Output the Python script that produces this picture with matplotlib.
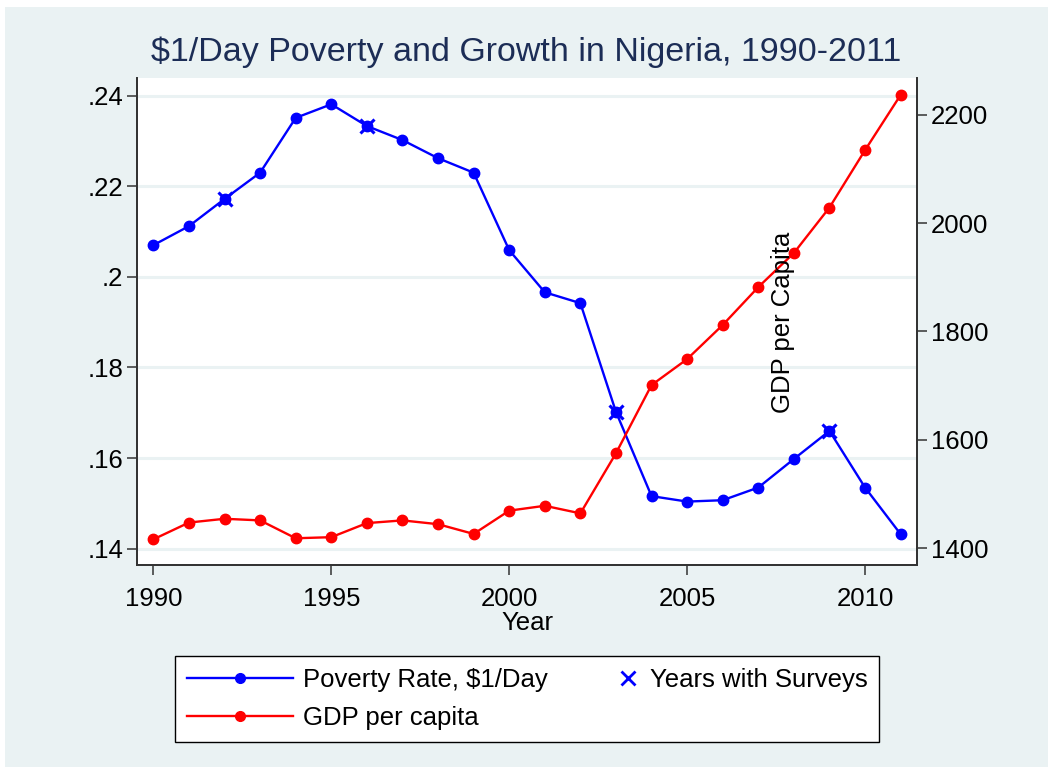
import numpy as np
import matplotlib
matplotlib.use("Agg")
import matplotlib.pyplot as plt
from matplotlib.patches import Rectangle
from matplotlib.lines import Line2D
from matplotlib.legend_handler import HandlerLine2D

plt.rcParams['font.family'] = ['Liberation Sans', 'DejaVu Sans']

years = np.arange(1990, 2012)
poverty = [0.2070, 0.2112, 0.2172, 0.2230, 0.2351, 0.2381, 0.2333, 0.2302,
           0.2262, 0.2230, 0.2059, 0.1966, 0.1942, 0.1702, 0.1516, 0.1504,
           0.1507, 0.1535, 0.1598, 0.1660, 0.1535, 0.1432]
gdp = [1416, 1447, 1454, 1451, 1418, 1420, 1446, 1451, 1444, 1426, 1469,
       1478, 1464, 1575, 1701, 1749, 1812, 1882, 1945, 2029, 2135, 2237]
survey_years = [1992, 1996, 2003, 2009]
left_ticks = [0.14, 0.16, 0.18, 0.20, 0.22, 0.24]
left_labels = ['.14', '.16', '.18', '.2', '.22', '.24']
right_ticks = [1400, 1600, 1800, 2000, 2200]
x_ticks = [1990, 1995, 2000, 2005, 2010]

bg = '#eaf2f3'
fs = 18.5


class RightMarker(HandlerLine2D):
    # marker-only entry: put the symbol at the right end of the handle box
    def get_xdata(self, legend, xdescent, ydescent, width, height, fontsize):
        x = width - xdescent - 0.45 * fontsize
        return [x, x], [x]


fig = plt.figure(figsize=(10.53, 7.72), dpi=100, facecolor='white')
fig.patches.append(Rectangle((5/1053, 5/772), 1043/1053, 760/772,
                             transform=fig.transFigure, facecolor=bg,
                             edgecolor='none', zorder=-10))

ax = fig.add_axes([137/1053, 1 - 565/772, 780/1053, 487/772])
ax.set_facecolor('white')
ax2 = ax.twinx()

ax.plot(years, poverty, color='blue', lw=1.7, marker='o', ms=7.5, zorder=3)
sv = [poverty[list(years).index(y)] for y in survey_years]
ax.plot(survey_years, sv, ls='none', marker='x', color='blue', ms=10, mew=2.2, zorder=4)
ax2.plot(years, gdp, color='red', lw=1.7, marker='o', ms=7.5, zorder=3)

ax.set_xlim(1989.54, 2011.46)
ax.set_ylim(0.1364, 0.2439)
ax2.set_ylim(1368.6, 2268.3)

ax.set_yticks(left_ticks)
ax.set_yticklabels(left_labels)
ax2.set_yticks(right_ticks)
ax.set_xticks(x_ticks)

ax.yaxis.grid(True, color=bg, lw=2.2)
ax.set_axisbelow(True)

for a in (ax, ax2):
    a.spines['top'].set_visible(False)
    for s in ('left', 'right', 'bottom'):
        a.spines[s].set_color('#333333')
        a.spines[s].set_linewidth(1.3)
    a.tick_params(axis='both', length=7, width=1.1, color='#333333',
                  labelsize=fs, labelcolor='black', pad=3)
ax.tick_params(axis='x', pad=9)
ax.set_xlabel('Year', fontsize=fs, labelpad=0)

fig.text(0.5, 1 - 52/772, '$1/Day Poverty and Growth in Nigeria, 1990-2011',
         ha='center', va='center', fontsize=24.5, color='#1c2d56')
fig.text(783/1053, 1 - 322/772, 'GDP per Capita', rotation=90,
         ha='center', va='center', fontsize=fs)

h1 = Line2D([], [], color='blue', lw=1.7, marker='o', ms=7)
h2 = Line2D([], [], color='red', lw=1.7, marker='o', ms=7)
h3 = Line2D([], [], color='blue', ls='none', marker='x', ms=10, mew=2)
leg = fig.legend([h1, h2, h3], ['Poverty Rate, $1/Day', 'GDP per capita', 'Years with Surveys'],
                 ncol=2, loc='center', bbox_to_anchor=(527/1053, 1 - 699/772),
                 fontsize=fs, frameon=True, fancybox=False, edgecolor='black',
                 facecolor='white', framealpha=1.0,
                 handlelength=4.15, numpoints=1, columnspacing=-0.6,
                 labelspacing=0.55, handletextpad=0.4, borderpad=0.45,
                 handler_map={h3: RightMarker()})
leg.get_frame().set_linewidth(1.0)

fig.savefig('out.png', dpi=100, facecolor='white')
